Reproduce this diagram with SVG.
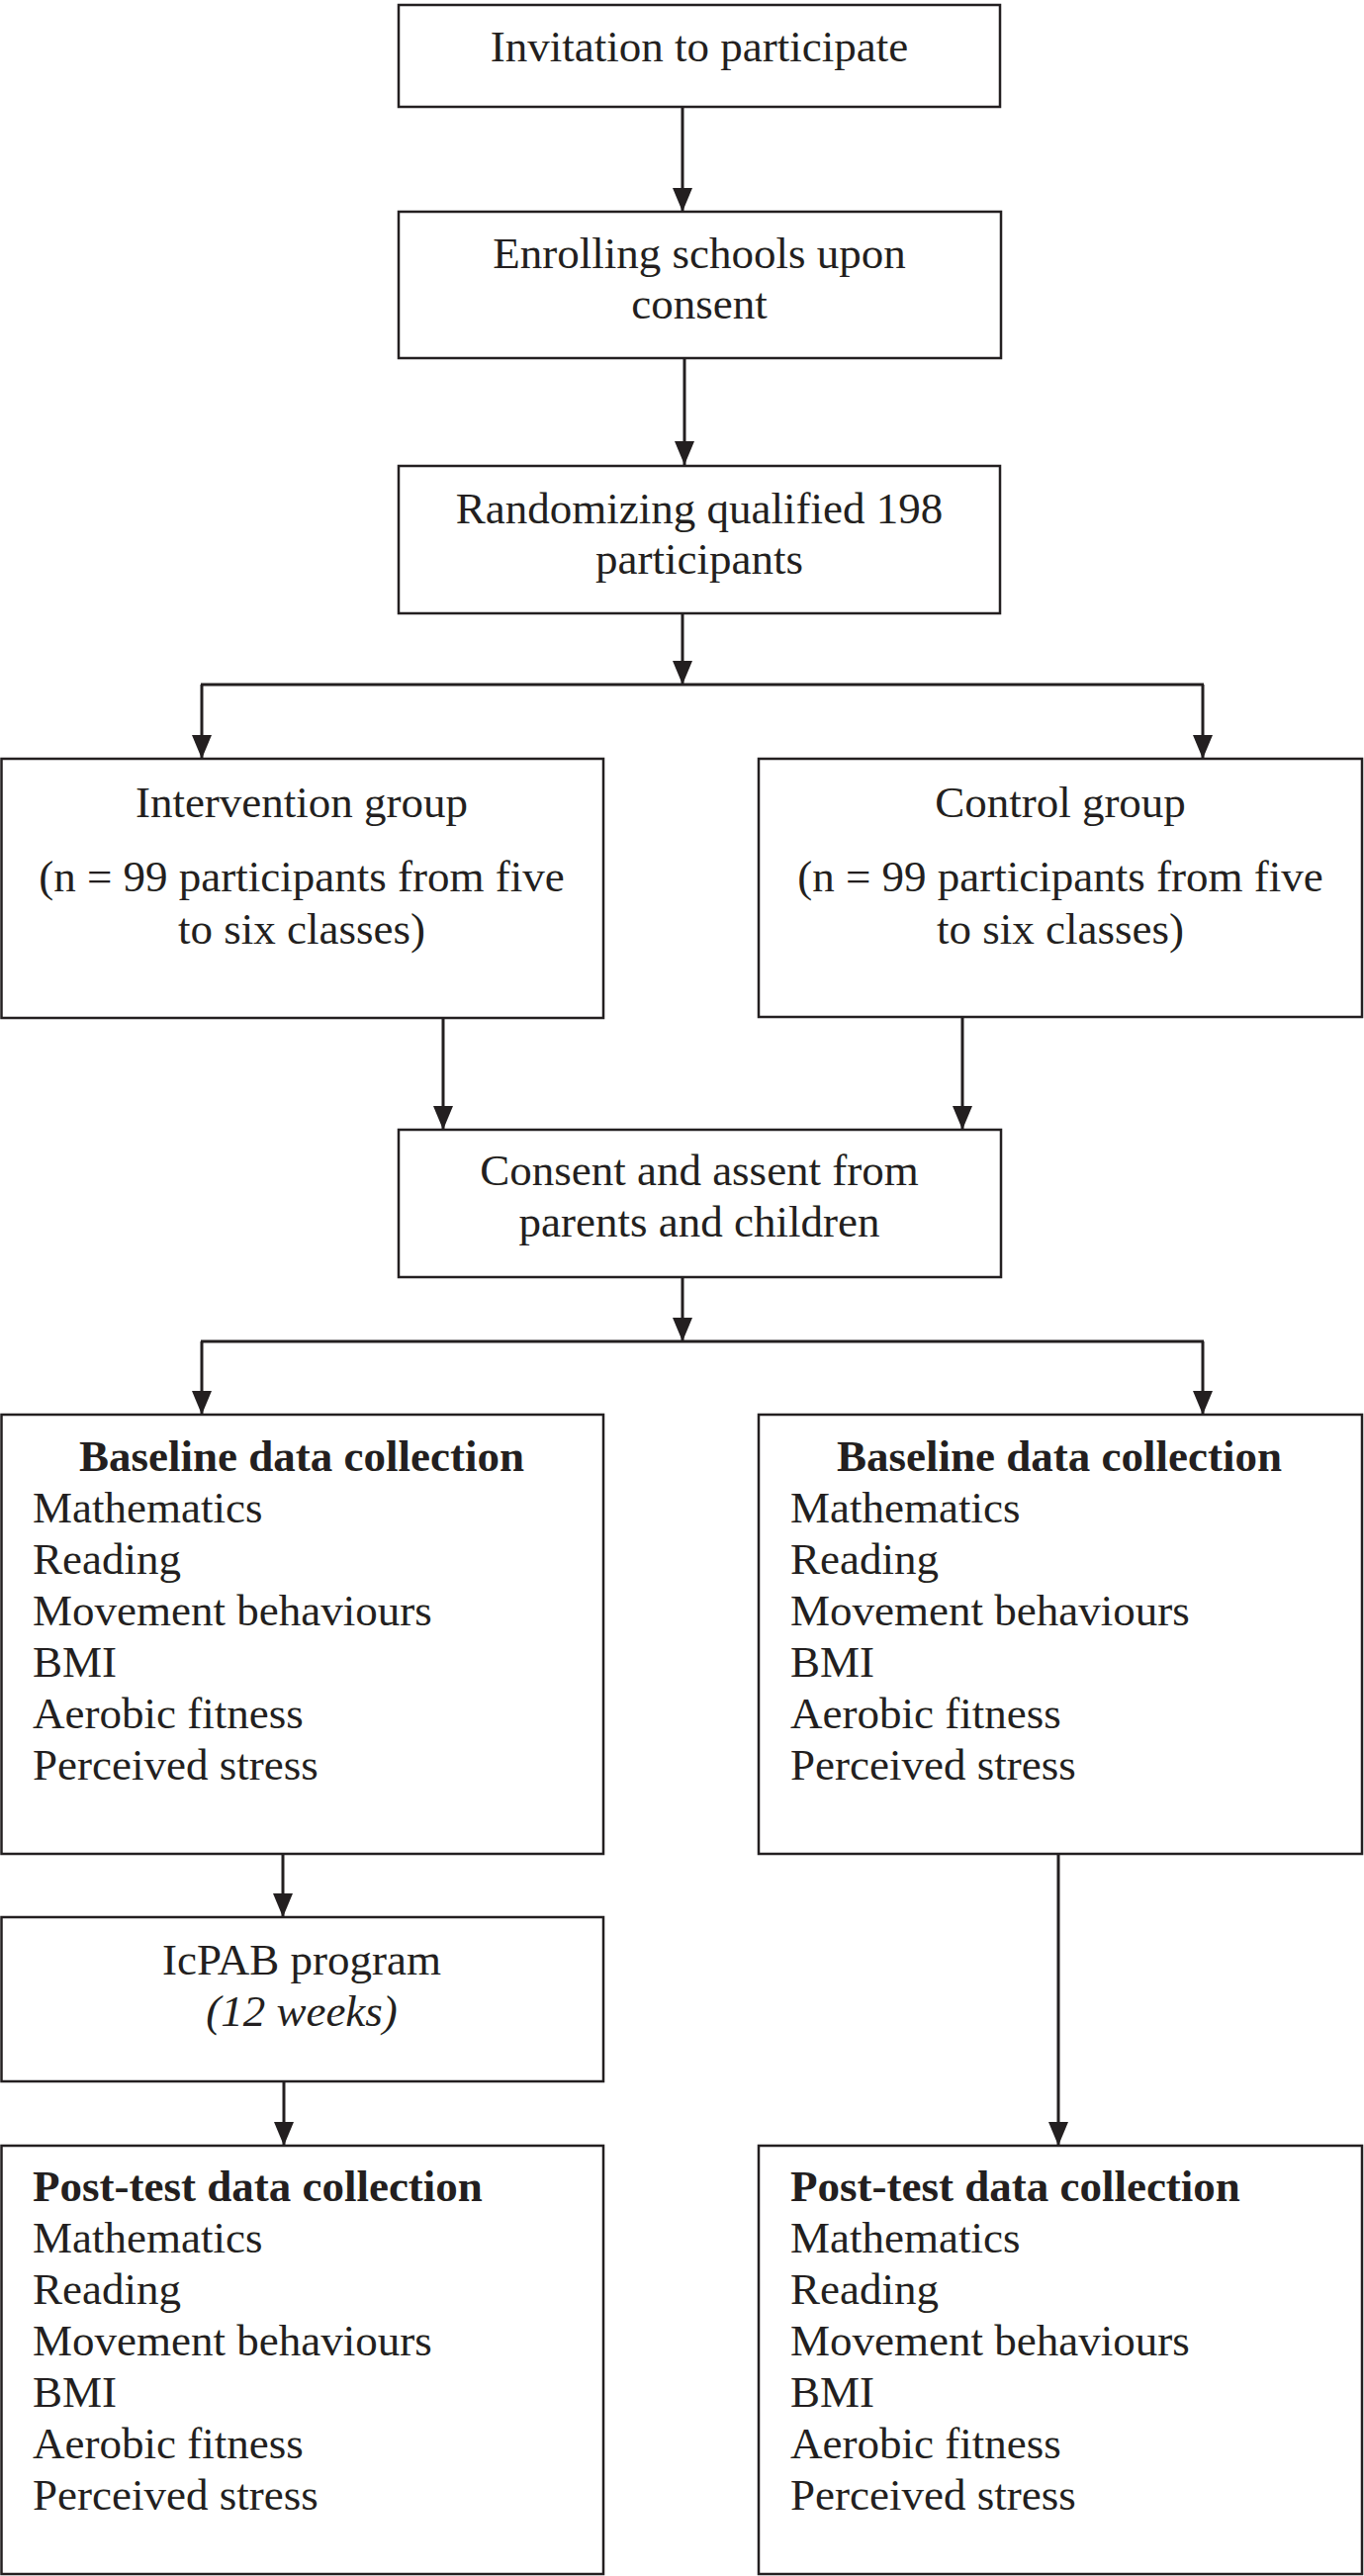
<svg xmlns="http://www.w3.org/2000/svg" width="1379" height="2604" viewBox="0 0 1379 2604">
<style>
.box{fill:#fff;stroke:#231f20;stroke-width:2.5}
.t{font-family:"Liberation Serif","Times New Roman",serif;font-size:45px;fill:#231f20}
.c{text-anchor:middle}
.b{font-weight:bold}
.i{font-style:italic}
.ln{fill:none;stroke:#231f20;stroke-width:3}
</style>
<defs>
<marker id="ah" markerUnits="userSpaceOnUse" markerWidth="24" markerHeight="20" refX="24" refY="10" orient="auto">
<path d="M0,0 L24,10 L0,20 z" fill="#231f20"/>
</marker>
</defs>
<rect width="1379" height="2604" fill="#fff"/>
<g id="connectors">
<line class="ln" x1="690" y1="108" x2="690" y2="214" marker-end="url(#ah)"/>
<line class="ln" x1="692" y1="362" x2="692" y2="470" marker-end="url(#ah)"/>
<line class="ln" x1="690" y1="620" x2="690" y2="692" marker-end="url(#ah)"/>
<line class="ln" x1="203" y1="692" x2="1217" y2="692"/>
<line class="ln" x1="204" y1="692" x2="204" y2="767" marker-end="url(#ah)"/>
<line class="ln" x1="1216" y1="692" x2="1216" y2="767" marker-end="url(#ah)"/>
<line class="ln" x1="448" y1="1029" x2="448" y2="1142" marker-end="url(#ah)"/>
<line class="ln" x1="973" y1="1029" x2="973" y2="1142" marker-end="url(#ah)"/>
<line class="ln" x1="690" y1="1291" x2="690" y2="1356" marker-end="url(#ah)"/>
<line class="ln" x1="203" y1="1356" x2="1217" y2="1356"/>
<line class="ln" x1="204" y1="1356" x2="204" y2="1430" marker-end="url(#ah)"/>
<line class="ln" x1="1216" y1="1356" x2="1216" y2="1430" marker-end="url(#ah)"/>
<line class="ln" x1="286" y1="1874" x2="286" y2="1938" marker-end="url(#ah)"/>
<line class="ln" x1="1070" y1="1874" x2="1070" y2="2169" marker-end="url(#ah)"/>
<line class="ln" x1="287" y1="2104" x2="287" y2="2169" marker-end="url(#ah)"/>
</g>
<g id="invitation">
<rect class="box" x="403" y="5" width="608" height="103"/>
<text class="t c" x="707" y="62">Invitation to participate</text>
</g>
<g id="enrolling">
<rect class="box" x="403" y="214" width="609" height="148"/>
<text class="t c" x="707" y="271">Enrolling schools upon</text>
<text class="t c" x="707" y="322">consent</text>
</g>
<g id="randomizing">
<rect class="box" x="403" y="471" width="608" height="149"/>
<text class="t c" x="707" y="529">Randomizing qualified 198</text>
<text class="t c" x="707" y="580">participants</text>
</g>
<g id="intervention">
<rect class="box" x="1.5" y="767" width="608.5" height="262"/>
<text class="t c" x="305" y="826">Intervention group</text>
<text class="t c" x="305" y="901">(n = 99 participants from five</text>
<text class="t c" x="305" y="954">to six classes)</text>
</g>
<g id="control">
<rect class="box" x="767" y="767" width="610" height="261"/>
<text class="t c" x="1072" y="826">Control group</text>
<text class="t c" x="1072" y="901">(n = 99 participants from five</text>
<text class="t c" x="1072" y="954">to six classes)</text>
</g>
<g id="consent">
<rect class="box" x="403" y="1142" width="609" height="149"/>
<text class="t c" x="707" y="1198">Consent and assent from</text>
<text class="t c" x="707" y="1250">parents and children</text>
</g>
<g id="baseline-left">
<rect class="box" x="1.5" y="1430" width="608.5" height="444"/>
<text class="t c b" x="305" y="1487">Baseline data collection</text>
<text class="t" x="33" y="1539">Mathematics</text>
<text class="t" x="33" y="1591">Reading</text>
<text class="t" x="33" y="1643">Movement behaviours</text>
<text class="t" x="33" y="1695">BMI</text>
<text class="t" x="33" y="1747">Aerobic fitness</text>
<text class="t" x="33" y="1799">Perceived stress</text>
</g>
<g id="baseline-right">
<rect class="box" x="767" y="1430" width="610" height="444"/>
<text class="t c b" x="1071" y="1487">Baseline data collection</text>
<text class="t" x="799" y="1539">Mathematics</text>
<text class="t" x="799" y="1591">Reading</text>
<text class="t" x="799" y="1643">Movement behaviours</text>
<text class="t" x="799" y="1695">BMI</text>
<text class="t" x="799" y="1747">Aerobic fitness</text>
<text class="t" x="799" y="1799">Perceived stress</text>
</g>
<g id="icpab">
<rect class="box" x="1.5" y="1938" width="608.5" height="166"/>
<text class="t c" x="305" y="1996">IcPAB program</text>
<text class="t c i" x="305" y="2048">(12 weeks)</text>
</g>
<g id="posttest-left">
<rect class="box" x="1.5" y="2169" width="608.5" height="433"/>
<text class="t b" x="33" y="2225">Post-test data collection</text>
<text class="t" x="33" y="2277">Mathematics</text>
<text class="t" x="33" y="2329">Reading</text>
<text class="t" x="33" y="2381">Movement behaviours</text>
<text class="t" x="33" y="2433">BMI</text>
<text class="t" x="33" y="2485">Aerobic fitness</text>
<text class="t" x="33" y="2537">Perceived stress</text>
</g>
<g id="posttest-right">
<rect class="box" x="767" y="2169" width="610" height="433"/>
<text class="t b" x="799" y="2225">Post-test data collection</text>
<text class="t" x="799" y="2277">Mathematics</text>
<text class="t" x="799" y="2329">Reading</text>
<text class="t" x="799" y="2381">Movement behaviours</text>
<text class="t" x="799" y="2433">BMI</text>
<text class="t" x="799" y="2485">Aerobic fitness</text>
<text class="t" x="799" y="2537">Perceived stress</text>
</g>
</svg>
